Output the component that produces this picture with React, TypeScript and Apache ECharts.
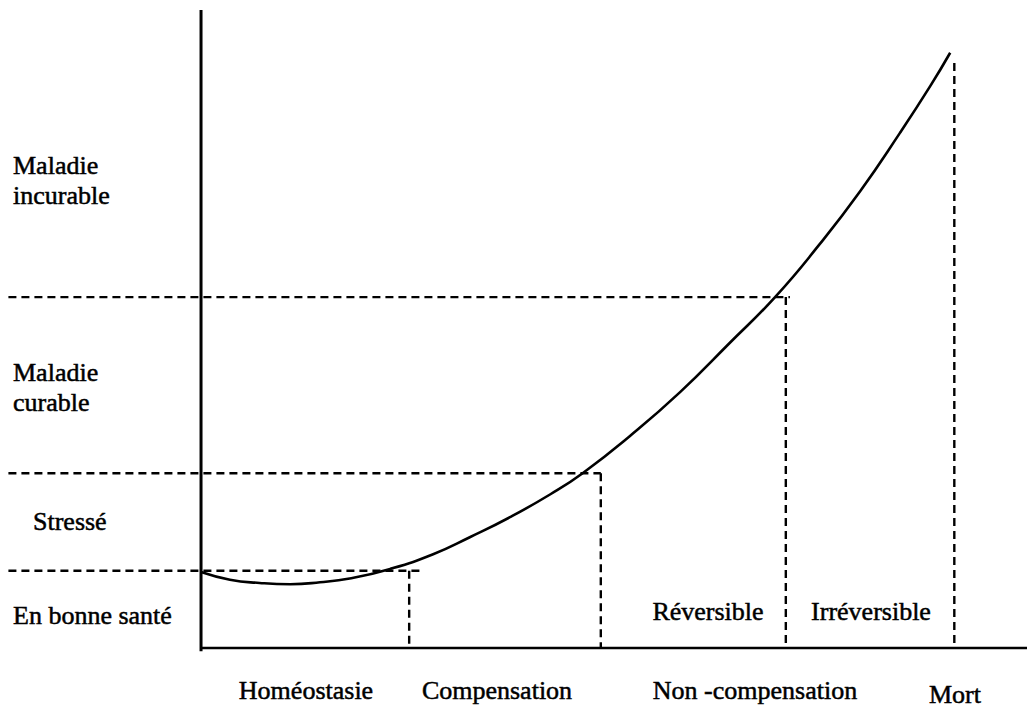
import React, { useEffect, useRef } from "react";
import * as echarts from "echarts";

// Phase labels along the horizontal axis
const X_PHASES = ["Homéostasie", "Compensation", "Non -compensation", "Mort"];
// Health zones along the vertical axis (bottom to top)
const Y_ZONES = ["En bonne santé", "Stressé", "Maladie\ncurable", "Maladie\nincurable"];
// Sub-phases inside the last region
const SUB_PHASES = ["Réversible", "Irréversible"];

// Curve (arbitrary units 0..100)
const CURVE_X = [0, 3.5, 7.1, 10.8, 14.4, 18.0, 22.9, 28.1, 32.6, 37.4, 42.3, 46.2, 51.9, 58.0, 64.0, 69.5, 74.9, 79.8, 84.6, 88.3, 90.7];
const CURVE_Y = [11.9, 10.7, 10.2, 10.0, 10.3, 10.9, 12.4, 14.7, 17.4, 20.5, 24.1, 27.4, 33.2, 40.1, 47.8, 55.0, 63.3, 71.6, 80.7, 88.1, 93.3];

// Zone boundaries (y) and where their dashed lines end (x)
const LEVELS = [12.1, 27.4, 55.0];
const LEVEL_END_X = [26.5, 48.4, 71.3];
// Phase boundaries (x) and the top of their dashed lines (y)
const BOUNDS_X = [25.2, 48.4, 70.8, 91.2];
const BOUND_TOP_Y = [12.1, 27.4, 55.0, 91.7];

const X_MIN = -23.37;
const X_MAX = 100;

export default function App() {
  const ref = useRef<HTMLDivElement>(null);
  useEffect(() => {
    if (!ref.current) return;
    const chart = echarts.init(ref.current, null, { renderer: "svg" });
    const dashStyle = { color: "#000", width: 2.4, type: [8, 5] as any };
    const seg = (data: number[][], lineStyle: any) => ({
      type: "line",
      data,
      symbol: "none",
      clip: false,
      silent: true,
      lineStyle,
    });
    const series: any[] = [];
    // axes
    series.push(seg([[0, -0.5], [0, 100]], { color: "#000", width: 3 }));
    series.push(seg([[0, 0], [X_MAX, 0]], { color: "#000", width: 2.6 }));
    // horizontal dashed lines
    LEVELS.forEach((y, i) => series.push(seg([[X_MIN + 0.05, y], [LEVEL_END_X[i], y]], dashStyle)));
    // vertical dashed lines
    BOUNDS_X.forEach((x, i) => series.push(seg([[x, BOUND_TOP_Y[i]], [x, 0]], dashStyle)));
    // curve
    series.push({
      type: "line",
      data: CURVE_X.map((x, i) => [x, CURVE_Y[i]]),
      smooth: 0.5,
      symbol: "none",
      clip: false,
      silent: true,
      lineStyle: { color: "#000", width: 2.6 },
    });

    const font = {
      fontSize: 26,
      fontFamily: "'Liberation Serif', 'Times New Roman', serif",
      fill: "#000",
      stroke: "#000",
      lineWidth: 0.5,
    };
    const txt = (text: string, x: number, y: number, align: string) => ({
      type: "text",
      x,
      y,
      silent: true,
      style: { ...font, text, align, verticalAlign: "middle", lineHeight: 30 },
    });
    const yPos = [[13, 615], [33, 521], [13, 387], [13, 180]];
    const xPos = [[306, 690], [497, 690], [755, 690], [955, 694]];
    const subPos = [[708, 611], [871, 611]];
    const graphic: any[] = [
      ...Y_ZONES.map((t, i) => txt(t, yPos[i][0], yPos[i][1], "left")),
      ...X_PHASES.map((t, i) => txt(t, xPos[i][0], xPos[i][1], "center")),
      ...SUB_PHASES.map((t, i) => txt(t, subPos[i][0], subPos[i][1], "center")),
    ];

    chart.setOption({
      animation: false,
      backgroundColor: "#fff",
      grid: { left: 8, right: 2, top: 10, bottom: 64 },
      xAxis: { type: "value", min: X_MIN, max: X_MAX, show: false },
      yAxis: { type: "value", min: 0, max: 100, show: false },
      series,
      graphic,
    });
    return () => chart.dispose();
  }, []);
  return <div ref={ref} style={{ position: "absolute", left: 0, top: 0, width: 1029, height: 712 }} />;
}
